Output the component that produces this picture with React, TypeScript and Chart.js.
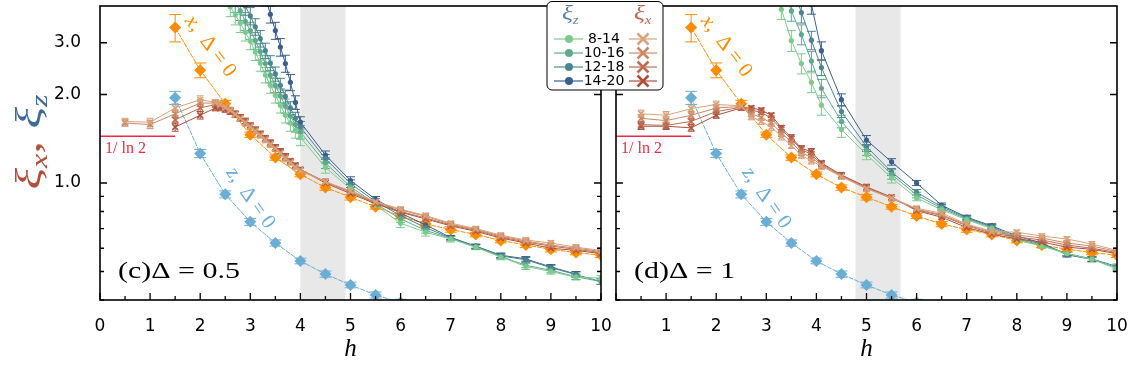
import React, { useEffect, useRef } from "react";
import { Chart, registerables } from "chart.js";

Chart.register(...registerables);

type Pt = [number, number, number]; // [h, value, error]

// ---------------- axes ----------------
const X_TICKS = [0, 0.5, 1, 1.5, 2, 2.5, 3, 3.5, 4, 4.5, 5, 5.5, 6, 6.5, 7, 7.5, 8, 8.5, 9, 9.5, 10];
const Y_TICKS = [0.4, 0.5, 0.6, 0.7, 0.8, 0.9, 1, 2, 3];
const Y_LABELLED = [1, 2, 3];
const X_MIN = 0;
const X_MAX = 10;
const Y_MIN = 0.4;
const Y_MAX = 4;

const SIZE_LABELS = ["8-14", "10-16", "12-18", "14-20"];
const INV_LN2 = 1 / Math.log(2);
const LN2_SPAN = [0, 1.5];
const BAND_C = [4.0, 4.9];
const BAND_D = [4.78, 5.68];

// ---------------- reference curves (Delta = 0) ----------------
const X_DELTA0: Pt[] = [
  [1.5, 3.38, 0.36], [2, 2.42, 0.14], [2.5, 1.86, 0.05], [3, 1.46, 0.03], [3.5, 1.22, 0.025],
  [4, 1.07, 0.02], [4.5, 0.965, 0.02], [5, 0.895, 0.02], [5.5, 0.83, 0.015], [6, 0.772, 0.015],
  [6.5, 0.725, 0.015], [7, 0.695, 0.015], [7.5, 0.668, 0.012], [8, 0.638, 0.012], [8.5, 0.615, 0.012],
  [9, 0.595, 0.012], [9.5, 0.58, 0.01], [10, 0.568, 0.01],
];
const Z_DELTA0: Pt[] = [
  [1.5, 1.95, 0.1], [2, 1.26, 0.04], [2.5, 0.915, 0.025], [3, 0.738, 0.02], [3.5, 0.625, 0.015],
  [4, 0.543, 0.012], [4.5, 0.49, 0.012], [5, 0.45, 0.01], [5.5, 0.416, 0.01], [6, 0.392, 0.01],
  [6.5, 0.37, 0.01],
];

// ---------------- panel (c) Delta = 0.5 ----------------
const C_XI_Z_8_14: Pt[] = [
  [2.5, 4.3, 0.3], [2.6, 3.98, 0.3], [2.7, 3.73, 0.28], [2.8, 3.5, 0.25], [2.9, 3.26, 0.22], [3.0, 3.04, 0.2],
  [3.1, 2.79, 0.18], [3.2, 2.56, 0.16], [3.3, 2.33, 0.14], [3.4, 2.15, 0.13], [3.5, 1.99, 0.12], [3.6, 1.84, 0.11],
  [3.7, 1.7, 0.1], [3.8, 1.6, 0.1], [3.9, 1.51, 0.09], [4.0, 1.43, 0.09], [4.5, 1.13, 0.05], [5, 0.955, 0.03],
  [5.5, 0.84, 0.02], [6, 0.73, 0.025], [6.5, 0.68, 0.02], [7, 0.645, 0.015], [7.5, 0.605, 0.012], [8, 0.56, 0.012],
  [8.5, 0.52, 0.012], [9, 0.5, 0.01], [9.5, 0.478, 0.01], [10, 0.475, 0.01],
];
const C_XI_Z_10_16: Pt[] = [
  [2.6, 4.4, 0.3], [2.7, 4.1, 0.3], [2.8, 3.85, 0.28], [2.9, 3.55, 0.25], [3.0, 3.3, 0.22], [3.1, 3.05, 0.2],
  [3.2, 2.8, 0.18], [3.3, 2.55, 0.16], [3.4, 2.33, 0.14], [3.5, 2.15, 0.12], [3.6, 1.98, 0.11], [3.7, 1.83, 0.1],
  [3.8, 1.69, 0.1], [3.9, 1.58, 0.09], [4.0, 1.49, 0.08], [4.5, 1.17, 0.05], [5, 0.97, 0.03], [5.5, 0.85, 0.02],
  [6, 0.755, 0.02], [6.5, 0.69, 0.015], [7, 0.648, 0.012], [7.5, 0.605, 0.01], [8, 0.562, 0.01], [8.5, 0.525, 0.01],
  [9, 0.505, 0.01], [9.5, 0.48, 0.01], [10, 0.462, 0.01],
];
const C_XI_Z_12_18: Pt[] = [
  [2.8, 4.3, 0.3], [2.9, 4.0, 0.28], [3.0, 3.7, 0.25], [3.1, 3.4, 0.22], [3.2, 3.1, 0.2], [3.3, 2.82, 0.17],
  [3.4, 2.56, 0.15], [3.5, 2.35, 0.13], [3.6, 2.15, 0.12], [3.7, 1.97, 0.1], [3.8, 1.8, 0.09], [3.9, 1.66, 0.08],
  [4.0, 1.55, 0.07], [4.5, 1.21, 0.04], [5, 0.995, 0.03], [5.5, 0.865, 0.02], [6, 0.775, 0.015], [6.5, 0.705, 0.012],
  [7, 0.65, 0.01], [7.5, 0.608, 0.01], [8, 0.565, 0.01], [8.5, 0.548, 0.01], [9, 0.515, 0.01], [9.5, 0.488, 0.01],
  [10, 0.462, 0.01],
];
const C_XI_Z_14_20: Pt[] = [
  [3.2, 4.9, 0.3], [3.3, 4.3, 0.3], [3.4, 3.75, 0.25], [3.5, 3.3, 0.22], [3.6, 2.9, 0.2], [3.7, 2.55, 0.17],
  [3.8, 2.2, 0.14], [3.9, 1.88, 0.1], [4.0, 1.61, 0.07], [4.5, 1.245, 0.04], [5, 1.02, 0.03], [5.5, 0.88, 0.02],
  [6, 0.79, 0.015], [6.5, 0.72, 0.012], [7, 0.653, 0.01], [7.5, 0.61, 0.01], [8, 0.568, 0.01], [8.5, 0.552, 0.01],
  [9, 0.518, 0.01], [9.5, 0.49, 0.01],
];
const C_XI_X_8_14: Pt[] = [
  [0.5, 1.62, 0.04], [1, 1.61, 0.05], [1.5, 1.8, 0.06], [2, 1.92, 0.06], [2.3, 1.88, 0.04], [2.4, 1.85, 0.04],
  [2.5, 1.81, 0.04], [2.6, 1.77, 0.04], [2.7, 1.71, 0.04], [2.8, 1.66, 0.04], [2.9, 1.6, 0.04], [3.0, 1.55, 0.03],
  [3.1, 1.5, 0.03], [3.2, 1.45, 0.03], [3.3, 1.4, 0.03], [3.4, 1.35, 0.03], [3.5, 1.31, 0.03], [3.6, 1.26, 0.03],
  [3.7, 1.21, 0.03], [3.8, 1.17, 0.02], [3.9, 1.13, 0.02], [4.0, 1.1, 0.02], [4.5, 1.01, 0.02], [5, 0.94, 0.02],
  [5.5, 0.865, 0.015], [6, 0.815, 0.015], [6.5, 0.775, 0.015], [7, 0.73, 0.012], [7.5, 0.7, 0.012],
  [8, 0.665, 0.012], [8.5, 0.64, 0.012], [9, 0.625, 0.012], [9.5, 0.605, 0.012], [10, 0.59, 0.012],
];
const C_XI_X_10_16: Pt[] = [
  [0.5, 1.6, 0.04], [1, 1.58, 0.05], [1.5, 1.72, 0.05], [2, 1.87, 0.05], [2.3, 1.87, 0.04], [2.4, 1.84, 0.04],
  [2.5, 1.8, 0.04], [2.6, 1.76, 0.04], [2.7, 1.71, 0.04], [2.8, 1.66, 0.04], [2.9, 1.61, 0.04], [3.0, 1.56, 0.03],
  [3.1, 1.51, 0.03], [3.2, 1.46, 0.03], [3.3, 1.41, 0.03], [3.4, 1.36, 0.03], [3.5, 1.31, 0.03], [3.6, 1.27, 0.03],
  [3.7, 1.22, 0.03], [3.8, 1.18, 0.02], [3.9, 1.14, 0.02], [4.0, 1.11, 0.02], [4.5, 1.01, 0.02], [5, 0.935, 0.02],
  [5.5, 0.86, 0.015], [6, 0.81, 0.015], [6.5, 0.77, 0.015], [7, 0.725, 0.012], [7.5, 0.695, 0.012],
  [8, 0.66, 0.012], [8.5, 0.635, 0.012], [9, 0.615, 0.012], [9.5, 0.6, 0.012], [10, 0.585, 0.012],
];
const C_XI_X_12_18: Pt[] = [
  [1.5, 1.64, 0.05], [2, 1.8, 0.05], [2.3, 1.85, 0.04], [2.4, 1.83, 0.04], [2.5, 1.8, 0.04], [2.6, 1.76, 0.04],
  [2.7, 1.72, 0.04], [2.8, 1.67, 0.04], [2.9, 1.62, 0.04], [3.0, 1.57, 0.03], [3.1, 1.52, 0.03], [3.2, 1.47, 0.03],
  [3.3, 1.42, 0.03], [3.4, 1.37, 0.03], [3.5, 1.32, 0.03], [3.6, 1.27, 0.03], [3.7, 1.23, 0.03], [3.8, 1.18, 0.02],
  [3.9, 1.14, 0.02], [4.0, 1.11, 0.02], [4.5, 1.01, 0.02], [5, 0.93, 0.02], [5.5, 0.855, 0.015], [6, 0.8, 0.015],
  [6.5, 0.76, 0.012], [7, 0.72, 0.012], [7.5, 0.69, 0.012], [8, 0.655, 0.012], [8.5, 0.63, 0.012],
  [9, 0.61, 0.012], [9.5, 0.595, 0.012], [10, 0.58, 0.012],
];
const C_XI_X_14_20: Pt[] = [
  [1.5, 1.55, 0.05], [2, 1.7, 0.05], [2.3, 1.8, 0.04], [2.4, 1.8, 0.04], [2.5, 1.78, 0.04], [2.6, 1.75, 0.04],
  [2.7, 1.71, 0.04], [2.8, 1.67, 0.04], [2.9, 1.62, 0.04], [3.0, 1.57, 0.03], [3.1, 1.52, 0.03], [3.2, 1.47, 0.03],
  [3.3, 1.42, 0.03], [3.4, 1.37, 0.03], [3.5, 1.32, 0.03], [3.6, 1.28, 0.03], [3.7, 1.23, 0.03], [3.8, 1.19, 0.02],
  [3.9, 1.15, 0.02], [4.0, 1.11, 0.02], [4.5, 1.0, 0.02], [5, 0.92, 0.02], [5.5, 0.85, 0.015], [6, 0.795, 0.015],
  [6.5, 0.755, 0.012], [7, 0.715, 0.012], [7.5, 0.685, 0.012], [8, 0.65, 0.012], [8.5, 0.625, 0.012],
  [9, 0.6, 0.012], [9.5, 0.59, 0.012], [10, 0.575, 0.012],
];

// ---------------- panel (d) Delta = 1 ----------------
const D_XI_Z_8_14: Pt[] = [
  [3.1, 4.8, 0.4], [3.3, 3.9, 0.3], [3.5, 3.05, 0.25], [3.7, 2.55, 0.2], [3.9, 2.2, 0.17], [4.1, 1.84, 0.14],
  [4.5, 1.52, 0.09], [5, 1.25, 0.05], [5.5, 1.04, 0.04], [6, 0.89, 0.02], [6.5, 0.81, 0.015], [7, 0.75, 0.012],
  [7.5, 0.7, 0.012], [8, 0.64, 0.012], [8.5, 0.61, 0.01], [9, 0.575, 0.01], [9.5, 0.55, 0.01], [10, 0.51, 0.01],
];
const D_XI_Z_10_16: Pt[] = [
  [3.3, 4.8, 0.4], [3.5, 3.85, 0.3], [3.7, 3.2, 0.25], [3.9, 2.6, 0.2], [4.1, 2.1, 0.15], [4.5, 1.62, 0.08],
  [5, 1.29, 0.05], [5.5, 1.07, 0.04], [6, 0.91, 0.02], [6.5, 0.82, 0.015], [7, 0.755, 0.012], [7.5, 0.705, 0.012],
  [8, 0.645, 0.012], [8.5, 0.615, 0.01], [9, 0.575, 0.01], [9.5, 0.55, 0.01], [10, 0.515, 0.01],
];
const D_XI_Z_12_18: Pt[] = [
  [3.5, 4.8, 0.4], [3.7, 3.8, 0.3], [3.9, 3.06, 0.22], [4.1, 2.47, 0.15], [4.5, 1.75, 0.08], [5, 1.33, 0.05],
  [5.5, 1.09, 0.03], [6, 0.93, 0.02], [6.5, 0.83, 0.015], [7, 0.76, 0.012], [7.5, 0.71, 0.012], [8, 0.65, 0.012],
  [8.5, 0.62, 0.01], [9, 0.575, 0.01], [9.5, 0.552, 0.01], [10, 0.52, 0.01],
];
const D_XI_Z_14_20: Pt[] = [
  [3.7, 5.2, 0.4], [3.9, 4.05, 0.3], [4.1, 2.82, 0.2], [4.5, 1.92, 0.09], [5, 1.4, 0.05], [5.5, 1.18, 0.03],
  [6, 1.0, 0.02], [6.5, 0.84, 0.015], [7, 0.765, 0.012], [7.5, 0.715, 0.012], [8, 0.66, 0.012], [8.5, 0.625, 0.01],
  [9, 0.57, 0.01], [9.5, 0.55, 0.01],
];
const D_XI_X_8_14: Pt[] = [
  [0.5, 1.72, 0.05], [1, 1.7, 0.05], [1.5, 1.79, 0.05], [2, 1.85, 0.05], [2.5, 1.83, 0.04], [2.7, 1.68, 0.04],
  [2.9, 1.62, 0.04], [3.1, 1.55, 0.04], [3.3, 1.44, 0.04], [3.5, 1.34, 0.03], [3.7, 1.24, 0.03], [3.9, 1.19, 0.03],
  [4.1, 1.14, 0.03], [4.5, 1.05, 0.02], [5, 0.955, 0.02], [5.5, 0.89, 0.015], [6, 0.82, 0.015], [6.5, 0.79, 0.015],
  [7, 0.725, 0.012], [7.5, 0.685, 0.012], [8, 0.68, 0.012], [8.5, 0.66, 0.012], [9, 0.645, 0.012],
  [9.5, 0.62, 0.012], [10, 0.59, 0.012],
];
const D_XI_X_10_16: Pt[] = [
  [0.5, 1.66, 0.05], [1, 1.63, 0.05], [1.5, 1.7, 0.05], [2, 1.8, 0.05], [2.5, 1.82, 0.04], [2.7, 1.72, 0.04],
  [2.9, 1.67, 0.04], [3.1, 1.6, 0.04], [3.3, 1.48, 0.04], [3.5, 1.38, 0.03], [3.7, 1.27, 0.03], [3.9, 1.22, 0.03],
  [4.1, 1.15, 0.03], [4.5, 1.055, 0.02], [5, 0.96, 0.02], [5.5, 0.885, 0.015], [6, 0.815, 0.015], [6.5, 0.78, 0.015],
  [7, 0.72, 0.012], [7.5, 0.68, 0.012], [8, 0.665, 0.012], [8.5, 0.65, 0.012], [9, 0.625, 0.012],
  [9.5, 0.61, 0.012], [10, 0.585, 0.012],
];
const D_XI_X_12_18: Pt[] = [
  [0.5, 1.58, 0.04], [1, 1.57, 0.04], [1.5, 1.62, 0.04], [2, 1.75, 0.04], [2.5, 1.81, 0.04], [2.7, 1.77, 0.03],
  [2.9, 1.74, 0.03], [3.1, 1.66, 0.03], [3.3, 1.52, 0.03], [3.5, 1.41, 0.03], [3.7, 1.3, 0.03], [3.9, 1.25, 0.03],
  [4.1, 1.16, 0.02], [4.5, 1.06, 0.02], [5, 0.965, 0.02], [5.5, 0.89, 0.015], [6, 0.81, 0.015], [6.5, 0.775, 0.012],
  [7, 0.715, 0.012], [7.5, 0.675, 0.012], [8, 0.655, 0.012], [8.5, 0.64, 0.012], [9, 0.615, 0.012],
  [9.5, 0.6, 0.012], [10, 0.58, 0.012],
];
const D_XI_X_14_20: Pt[] = [
  [0.5, 1.56, 0.04], [1, 1.56, 0.04], [1.5, 1.54, 0.04], [2, 1.7, 0.04], [2.5, 1.8, 0.03], [2.7, 1.8, 0.03],
  [2.9, 1.77, 0.03], [3.1, 1.7, 0.03], [3.3, 1.54, 0.03], [3.5, 1.43, 0.03], [3.7, 1.31, 0.03], [3.9, 1.28, 0.03],
  [4.1, 1.17, 0.02], [4.5, 1.065, 0.02], [5, 0.97, 0.02], [5.5, 0.895, 0.015], [6, 0.805, 0.015], [6.5, 0.765, 0.012],
  [7, 0.705, 0.012], [7.5, 0.67, 0.012], [8, 0.645, 0.012], [8.5, 0.63, 0.012], [9, 0.605, 0.012],
  [9.5, 0.595, 0.012], [10, 0.575, 0.012],
];

// ---------------- styles ----------------
const Z_COLORS = ["#7dcb8c", "#5faa8e", "#4b868f", "#3b5e8c"];
const X_COLORS = ["#d9a27b", "#cb8866", "#bd6d52", "#ae503c"];
const ORANGE = "#ff8c00";
const LIGHT_BLUE = "#6aaed6";
const RED = "#ee2a48";
const BAND_COLOR = "#e8e8e8";
const TITLE_X_COLOR = "#b0503a";
const TITLE_Z_COLOR = "#3e6a98";
const SERIF = '"Liberation Serif", "DejaVu Serif", serif';
const SANS = '"DejaVu Sans", sans-serif';
const TEXT_STRETCH = 1.25;

const TOP_PAD = 6;
const X_AXIS_HEIGHT = 91;

type Piece = { t: string; font: string; color: string; dy?: number };

function piecesWidth(ctx: CanvasRenderingContext2D, pieces: Piece[]) {
  let w = 0;
  for (const p of pieces) {
    ctx.font = p.font;
    w += ctx.measureText(p.t).width;
  }
  return w;
}
function drawPieces(ctx: CanvasRenderingContext2D, pieces: Piece[], x: number, y: number) {
  let cx = x;
  for (const p of pieces) {
    ctx.font = p.font;
    ctx.fillStyle = p.color;
    ctx.fillText(p.t, cx, y + (p.dy || 0));
    cx += ctx.measureText(p.t).width;
  }
}
function drawStretched(ctx: CanvasRenderingContext2D, pieces: Piece[], x: number, y: number, sx: number) {
  ctx.save();
  ctx.translate(x, y);
  ctx.scale(sx, 1);
  ctx.textAlign = "left";
  ctx.textBaseline = "alphabetic";
  drawPieces(ctx, pieces, 0, 0);
  ctx.restore();
}
function drawRotated(ctx: CanvasRenderingContext2D, pieces: Piece[], px: number, py: number, deg: number) {
  ctx.save();
  ctx.translate(px, py);
  ctx.rotate((deg * Math.PI) / 180);
  ctx.textAlign = "left";
  ctx.textBaseline = "middle";
  const w = piecesWidth(ctx, pieces);
  drawPieces(ctx, pieces, -w / 2, 0);
  ctx.restore();
}

type PanelDef = {
  key: string;
  canvasLeft: number;
  canvasWidth: number;
  yAxisWidth: number;
  padRight: number;
  band: number[];
  label: string;
  xLabelFrom: number;
  showYLabels: boolean;
  showYTitle: boolean;
  showLegend: boolean;
  xiZ: Pt[][];
  xiX: Pt[][];
};

const PANEL_C: PanelDef = {
  key: "c",
  canvasLeft: 0,
  canvasWidth: 615,
  yAxisWidth: 100,
  padRight: 14,
  band: BAND_C,
  label: "(c)\u0394 = 0.5",
  xLabelFrom: 0,
  showYLabels: true,
  showYTitle: true,
  showLegend: false,
  xiZ: [C_XI_Z_8_14, C_XI_Z_10_16, C_XI_Z_12_18, C_XI_Z_14_20],
  xiX: [C_XI_X_8_14, C_XI_X_10_16, C_XI_X_12_18, C_XI_X_14_20],
};
const PANEL_D: PanelDef = {
  key: "d",
  canvasLeft: 540,
  canvasWidth: 591,
  yAxisWidth: 76,
  padRight: 14,
  band: BAND_D,
  label: "(d)\u0394 = 1",
  xLabelFrom: 1,
  showYLabels: false,
  showYTitle: false,
  showLegend: true,
  xiZ: [D_XI_Z_8_14, D_XI_Z_10_16, D_XI_Z_12_18, D_XI_Z_14_20],
  xiX: [D_XI_X_8_14, D_XI_X_10_16, D_XI_X_12_18, D_XI_X_14_20],
};

function series(pts: Pt[], o: any) {
  return {
    label: o.label,
    data: pts.map(([h, v]) => ({ x: h, y: v })),
    errors: pts.map((p) => p[2]),
    capHalf: o.cap,
    showLine: true,
    borderColor: o.color,
    backgroundColor: o.color,
    borderWidth: o.lw ?? 1,
    borderDash: o.dash ?? [],
    pointStyle: o.style,
    pointRadius: o.radius,
    pointBorderWidth: o.pw ?? 1,
    pointBorderColor: o.color,
    pointBackgroundColor: o.color,
    order: o.order,
    tension: 0,
  };
}

function drawLegend(ctx: CanvasRenderingContext2D, ox: number) {
  const L = 547 - ox;
  const T = 1.5;
  const W = 116;
  const H = 88.5;
  const r = 5;
  ctx.save();
  ctx.beginPath();
  ctx.moveTo(L + r, T);
  ctx.lineTo(L + W - r, T);
  ctx.arcTo(L + W, T, L + W, T + r, r);
  ctx.lineTo(L + W, T + H - r);
  ctx.arcTo(L + W, T + H, L + W - r, T + H, r);
  ctx.lineTo(L + r, T + H);
  ctx.arcTo(L, T + H, L, T + H - r, r);
  ctx.lineTo(L, T + r);
  ctx.arcTo(L, T, L + r, T, r);
  ctx.closePath();
  ctx.fillStyle = "#fff";
  ctx.fill();
  ctx.strokeStyle = "#000";
  ctx.lineWidth = 1;
  ctx.stroke();

  drawStretched(ctx, [
    { t: "\u03be", font: `italic 22px ${SERIF}`, color: "#5a80ad" },
    { t: "z", font: `italic 13px ${SERIF}`, color: "#5a80ad", dy: 4 },
  ], 562 - ox, 20, 1.15);
  drawStretched(ctx, [
    { t: "\u03be", font: `italic 22px ${SERIF}`, color: "#bd6650" },
    { t: "x", font: `italic 13px ${SERIF}`, color: "#bd6650", dy: 4 },
  ], 634 - ox, 20, 1.15);

  const rows = [39, 53, 67, 81];
  rows.forEach((y, i) => {
    ctx.strokeStyle = Z_COLORS[i];
    ctx.lineWidth = 1.2;
    ctx.beginPath();
    ctx.moveTo(554 - ox, y);
    ctx.lineTo(583 - ox, y);
    ctx.stroke();
    ctx.fillStyle = Z_COLORS[i];
    ctx.beginPath();
    ctx.arc(569 - ox, y, 4, 0, Math.PI * 2);
    ctx.fill();
    ctx.font = `14px ${SANS}`;
    ctx.fillStyle = "#000";
    ctx.textAlign = "center";
    ctx.textBaseline = "middle";
    ctx.fillText(SIZE_LABELS[i], 604 - ox, y + 0.5);
    ctx.strokeStyle = X_COLORS[i];
    ctx.lineWidth = 1.2;
    ctx.beginPath();
    ctx.moveTo(629 - ox, y);
    ctx.lineTo(657 - ox, y);
    ctx.stroke();
    ctx.lineWidth = 2.6;
    const s = 5.5;
    const cx = 643 - ox;
    ctx.beginPath();
    ctx.moveTo(cx - s, y - s);
    ctx.lineTo(cx + s, y + s);
    ctx.moveTo(cx - s, y + s);
    ctx.lineTo(cx + s, y - s);
    ctx.stroke();
  });
  ctx.restore();
}

function makePlugin(p: PanelDef) {
  return {
    id: "decor_" + p.key,
    beforeDatasetsDraw(chart: any) {
      const { ctx, chartArea: a, scales } = chart;
      const xs = scales.x;
      const ys = scales.y;
      ctx.save();
      ctx.beginPath();
      ctx.rect(a.left, a.top, a.right - a.left, a.bottom - a.top);
      ctx.clip();
      const b1 = xs.getPixelForValue(p.band[0]);
      const b2 = xs.getPixelForValue(p.band[1]);
      ctx.fillStyle = BAND_COLOR;
      ctx.fillRect(b1, a.top, b2 - b1, a.bottom - a.top);
      chart.data.datasets.forEach((ds: any) => {
        if (!ds.errors) return;
        ctx.strokeStyle = ds.borderColor;
        ctx.lineWidth = 1;
        const c = ds.capHalf;
        ds.data.forEach((pt: any, i: number) => {
          const e = ds.errors[i];
          const x = xs.getPixelForValue(pt.x);
          const yt = ys.getPixelForValue(pt.y + e);
          const yb = ys.getPixelForValue(Math.max(pt.y - e, 0.01));
          ctx.beginPath();
          ctx.moveTo(x, yt);
          ctx.lineTo(x, yb);
          ctx.moveTo(x - c, yt);
          ctx.lineTo(x + c, yt);
          ctx.moveTo(x - c, yb);
          ctx.lineTo(x + c, yb);
          ctx.stroke();
        });
      });
      ctx.restore();
    },
    afterDatasetsDraw(chart: any) {
      const { ctx, chartArea: a, scales } = chart;
      const xs = scales.x;
      const ys = scales.y;
      ctx.save();
      ctx.strokeStyle = "#000";
      ctx.lineWidth = 1.6;
      ctx.strokeRect(a.left, a.top, a.right - a.left, a.bottom - a.top);
      ctx.lineWidth = 1.3;
      ctx.beginPath();
      X_TICKS.forEach((v) => {
        const x = xs.getPixelForValue(v);
        const len = Number.isInteger(v) ? 7 : 4;
        ctx.moveTo(x, a.bottom);
        ctx.lineTo(x, a.bottom - len);
      });
      Y_TICKS.forEach((v) => {
        const y = ys.getPixelForValue(v);
        const len = Y_LABELLED.includes(v) ? 7 : 4;
        ctx.moveTo(a.left, y);
        ctx.lineTo(a.left + len, y);
        ctx.moveTo(a.right, y);
        ctx.lineTo(a.right - len, y);
      });
      ctx.stroke();

      drawStretched(ctx, [{ t: "1/ ln 2", font: `16px ${SERIF}`, color: RED }], a.left + 5, ys.getPixelForValue(INV_LN2) + 17, 1.0);

      drawRotated(ctx, [
        { t: "x", font: `italic 21px ${SERIF}`, color: ORANGE },
        { t: ",  \u0394 = 0", font: `21px ${SERIF}`, color: ORANGE },
      ], xs.getPixelForValue(2.2), ys.getPixelForValue(2.92), 53);
      drawRotated(ctx, [
        { t: "z", font: `italic 21px ${SERIF}`, color: LIGHT_BLUE },
        { t: ",  \u0394 = 0", font: `21px ${SERIF}`, color: LIGHT_BLUE },
      ], xs.getPixelForValue(3.0), ys.getPixelForValue(0.889), 55);

      drawStretched(ctx, [{ t: p.label, font: `24px ${SERIF}`, color: "#000" }], a.left + 18, a.bottom - 22, TEXT_STRETCH);
      ctx.restore();
    },
    afterDraw(chart: any) {
      const { ctx } = chart;
      if (p.showYTitle) {
        ctx.save();
        ctx.translate(40 - p.canvasLeft, 142);
        ctx.rotate(-Math.PI / 2);
        ctx.scale(1.4, 1);
        const pieces: Piece[] = [
          { t: "\u03be", font: `italic 36px ${SERIF}`, color: TITLE_X_COLOR },
          { t: "x", font: `italic 23px ${SERIF}`, color: TITLE_X_COLOR, dy: 7 },
          { t: ", ", font: `36px ${SERIF}`, color: TITLE_X_COLOR },
          { t: "\u03be", font: `italic 36px ${SERIF}`, color: TITLE_Z_COLOR },
          { t: "z", font: `italic 23px ${SERIF}`, color: TITLE_Z_COLOR, dy: 7 },
        ];
        ctx.textAlign = "left";
        ctx.textBaseline = "alphabetic";
        const w = piecesWidth(ctx, pieces);
        drawPieces(ctx, pieces, -w / 2, 0);
        ctx.restore();
      }
      if (p.showLegend) drawLegend(ctx, p.canvasLeft);
    },
  };
}

function buildConfig(p: PanelDef): any {
  const datasets: any[] = [];
  p.xiX.forEach((pts, i) =>
    datasets.push(series(pts, { label: "xi_x " + SIZE_LABELS[i], color: X_COLORS[i], style: "crossRot", radius: 4, pw: 1.6, cap: 3.5, order: 1 }))
  );
  p.xiZ.forEach((pts, i) =>
    datasets.push(series(pts, { label: "xi_z " + SIZE_LABELS[i], color: Z_COLORS[i], style: "circle", radius: 2.6, pw: 0, cap: 4.5, order: 2 }))
  );
  datasets.push(series(X_DELTA0, { label: "x, Delta=0", color: ORANGE, style: "rectRot", radius: 6, pw: 0, cap: 6, order: 3, dash: [5, 1] }));
  datasets.push(series(Z_DELTA0, { label: "z, Delta=0", color: LIGHT_BLUE, style: "rectRot", radius: 6, pw: 0, cap: 6, order: 4, dash: [5, 1] }));
  datasets.push({
    label: "1/ln2",
    data: LN2_SPAN.map((h) => ({ x: h, y: INV_LN2 })),
    showLine: true,
    borderColor: RED,
    backgroundColor: RED,
    borderWidth: 1.6,
    pointRadius: 0,
    order: 0,
  });

  const tickFont = { family: SANS, size: 17 };
  return {
    type: "scatter",
    data: { datasets },
    options: {
      responsive: false,
      animation: false,
      devicePixelRatio: 1,
      events: [],
      layout: { padding: { left: 0, right: p.padRight, top: TOP_PAD, bottom: 0 } },
      plugins: { legend: { display: false }, tooltip: { enabled: false }, title: { display: false } },
      scales: {
        x: {
          type: "linear",
          min: X_MIN,
          max: X_MAX,
          afterBuildTicks: (s: any) => {
            s.ticks = X_TICKS.map((v) => ({ value: v }));
          },
          afterFit: (s: any) => {
            s.height = X_AXIS_HEIGHT;
            s.paddingLeft = 0;
            s.paddingRight = 0;
            s.paddingTop = 0;
            s.paddingBottom = 0;
          },
          ticks: {
            autoSkip: false,
            maxRotation: 0,
            minRotation: 0,
            padding: 8,
            color: "#000",
            font: tickFont,
            callback: (v: number) => (Number.isInteger(v) && v >= p.xLabelFrom ? String(v) : ""),
          },
          grid: { display: false },
          border: { display: false },
          title: {
            display: true,
            text: "h",
            color: "#000",
            font: { family: SERIF, style: "italic", size: 25 },
            padding: { top: 0, bottom: 27 },
          },
        },
        y: {
          type: "logarithmic",
          min: Y_MIN,
          max: Y_MAX,
          afterBuildTicks: (s: any) => {
            s.ticks = Y_TICKS.map((v) => ({ value: v }));
          },
          afterFit: (s: any) => {
            s.width = p.yAxisWidth;
            s.paddingLeft = 0;
            s.paddingRight = 0;
            s.paddingTop = 0;
            s.paddingBottom = 0;
          },
          ticks: {
            display: p.showYLabels,
            autoSkip: false,
            padding: 11,
            color: "#000",
            font: tickFont,
            callback: (v: number) => (Y_LABELLED.includes(v) ? v.toFixed(1) : ""),
          },
          grid: { display: false },
          border: { display: false },
        },
      },
    },
    plugins: [makePlugin(p)],
  };
}

export default function App() {
  const leftRef = useRef<HTMLCanvasElement>(null);
  const rightRef = useRef<HTMLCanvasElement>(null);
  useEffect(() => {
    const c1 = new Chart(leftRef.current as HTMLCanvasElement, buildConfig(PANEL_C));
    const c2 = new Chart(rightRef.current as HTMLCanvasElement, buildConfig(PANEL_D));
    return () => {
      c1.destroy();
      c2.destroy();
    };
  }, []);
  return (
    <div style={{ position: "absolute", left: 0, top: 0, width: 1131, height: 391, background: "#fff", overflow: "hidden" }}>
      <canvas ref={leftRef} width={PANEL_C.canvasWidth} height={391} style={{ position: "absolute", left: PANEL_C.canvasLeft, top: 0 }} />
      <canvas ref={rightRef} width={PANEL_D.canvasWidth} height={391} style={{ position: "absolute", left: PANEL_D.canvasLeft, top: 0 }} />
    </div>
  );
}
